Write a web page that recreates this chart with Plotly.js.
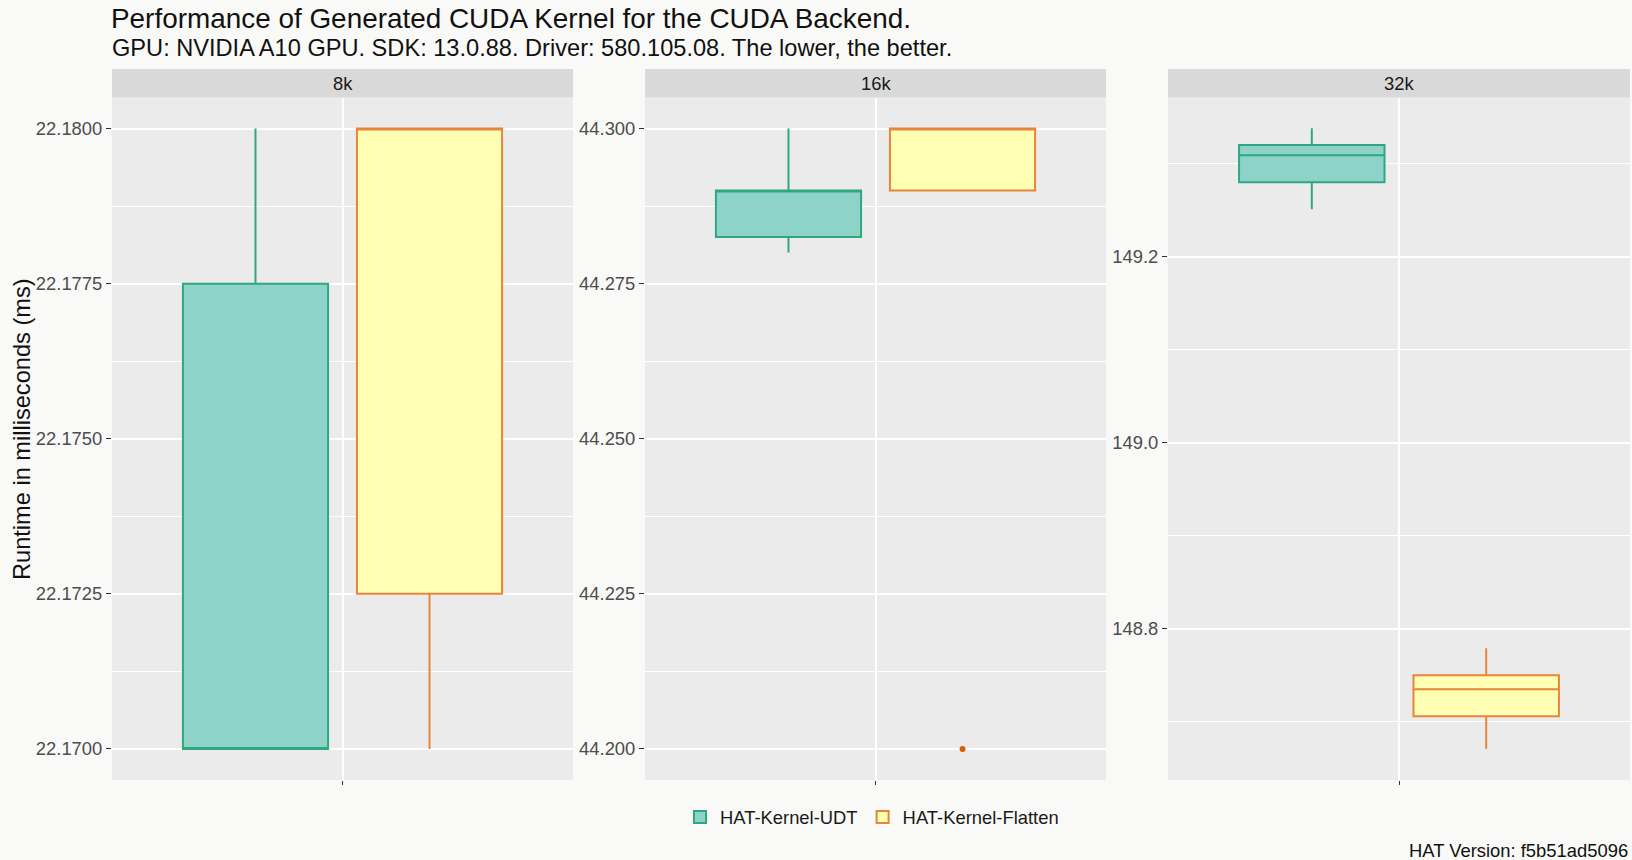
<!DOCTYPE html>
<html>
<head>
<meta charset="utf-8">
<script src="https://cdn.plot.ly/plotly-3.0.1.min.js"></script>
<style>
  html, body { margin: 0; padding: 0; background: #F9F9F7; }
  #chart { width: 1632px; height: 860px; }
</style>
</head>
<body>
<div id="chart"></div>
<script>
// Problem sizes (facets) and kernel variants
const sizes = ['8k', '16k', '32k'];
const series = ['HAT-Kernel-UDT', 'HAT-Kernel-Flatten'];

// Box statistics per size (runtime in ms)
const udtLower  = [22.1700, 44.2800, 149.251];
const udtQ1     = [22.1700, 44.2825, 149.280];
const udtMedian = [22.1700, 44.2900, 149.309];
const udtQ3     = [22.1775, 44.2900, 149.320];
const udtUpper  = [22.1800, 44.3000, 149.338];

const flatLower  = [22.1700, 44.2900, 148.671];
const flatQ1     = [22.1725, 44.2900, 148.706];
const flatMedian = [22.1800, 44.3000, 148.735];
const flatQ3     = [22.1800, 44.3000, 148.750];
const flatUpper  = [22.1800, 44.3000, 148.779];

// Points beyond the whiskers
const udtOutliers  = [[], [], []];
const flatOutliers = [[], [44.200], []];

// Y-axis tick labels per facet
const tickLabels = [
  ['22.1700', '22.1725', '22.1750', '22.1775', '22.1800'],
  ['44.200', '44.225', '44.250', '44.275', '44.300'],
  ['148.8', '149.0', '149.2']
];

const FONT = 'Liberation Sans, Arial, Helvetica, sans-serif';
const W = 1632, H = 860;
const px = v => v / W;
const py = v => 1 - v / H;

const styles = [
  { fill: '#8ED3C7', line: '#2FA882', point: '#1B9E77' },
  { fill: '#FFFFB3', line: '#E8853A', point: '#D95F02' }
];

const stats = [
  { lower: udtLower, q1: udtQ1, med: udtMedian, q3: udtQ3, upper: udtUpper, out: udtOutliers },
  { lower: flatLower, q1: flatQ1, med: flatMedian, q3: flatQ3, upper: flatUpper, out: flatOutliers }
];

const traces = [];
sizes.forEach((size, f) => {
  const sfx = f === 0 ? '' : String(f + 1);
  series.forEach((name, s) => {
    const st = stats[s];
    const tr = {
      type: 'box',
      orientation: 'v',
      name: name,
      legendgroup: name,
      showlegend: f === 0,
      offsetgroup: String(s),
      x: [size],
      lowerfence: [st.lower[f]],
      q1: [st.q1[f]],
      median: [st.med[f]],
      q3: [st.q3[f]],
      upperfence: [st.upper[f]],
      boxpoints: false,
      whiskerwidth: 0,
      fillcolor: styles[s].fill,
      line: { color: styles[s].line, width: 2 },
      marker: { color: styles[s].point, size: 6, line: { width: 0 } },
      xaxis: 'x' + sfx,
      yaxis: 'y' + sfx,
      hoverinfo: 'skip'
    };
    // raw outlier samples, only where there are any
    if (st.out[f].length) {
      tr.y = [st.out[f]];
      tr.boxpoints = 'outliers';
      tr.jitter = 0;
      tr.pointpos = 0;
    }
    traces.push(tr);
  });
});

// Panel placement (pixel edges)
const panelX = [[112, 573], [645, 1106], [1168, 1630]];
const panelTop = 97.5, panelBottom = 780, stripTop = 69;

const yRanges = [[22.1695, 22.1805], [44.195, 44.305], [148.6375, 149.371]];
const yTick0 = [22.17, 44.2, 148.8];
const yDtick = [0.0025, 0.025, 0.2];

const layout = {
  width: W, height: H,
  margin: { l: 0, r: 0, t: 0, b: 0 },
  paper_bgcolor: '#F9F9F7',
  plot_bgcolor: '#EBEBEB',
  boxmode: 'group',
  boxgap: 0.094,
  boxgroupgap: 0.166,
  font: { family: FONT, color: '#1A1A1A' },
  title: {
    text: 'Performance of Generated CUDA Kernel for the CUDA Backend.',
    font: { family: FONT, size: 27.9, color: '#111111' },
    xref: 'container', yref: 'container',
    x: px(111), xanchor: 'left',
    y: py(18), yanchor: 'middle'
  },
  showlegend: true,
  legend: {
    orientation: 'h',
    x: px(872), xanchor: 'center',
    y: py(817), yanchor: 'middle',
    font: { family: FONT, size: 18.4, color: '#1A1A1A' },
    bgcolor: 'rgba(0,0,0,0)',
    itemwidth: 30,
    traceorder: 'normal'
  },
  shapes: [],
  annotations: [
    {
      text: 'GPU: NVIDIA A10 GPU. SDK: 13.0.88. Driver: 580.105.08. The lower, the better.',
      xref: 'paper', yref: 'paper',
      x: px(110), xanchor: 'left',
      y: py(48), yanchor: 'middle',
      showarrow: false,
      font: { family: FONT, size: 23.6, color: '#111111' }
    },
    {
      text: 'Runtime in milliseconds (ms)',
      xref: 'paper', yref: 'paper',
      x: px(22), xanchor: 'center',
      y: py(429), yanchor: 'middle',
      textangle: -90,
      showarrow: false,
      font: { family: FONT, size: 23.6, color: '#111111' }
    },
    {
      text: 'HAT Version: f5b51ad5096',
      xref: 'paper', yref: 'paper',
      x: px(1630), xanchor: 'right',
      y: py(850), yanchor: 'middle',
      showarrow: false,
      font: { family: FONT, size: 18.4, color: '#111111' }
    }
  ]
};

sizes.forEach((size, f) => {
  const sfx = f === 0 ? '' : String(f + 1);
  layout['xaxis' + sfx] = {
    type: 'category',
    domain: [px(panelX[f][0]), px(panelX[f][1])],
    anchor: 'y' + sfx,
    range: [-0.6, 0.6],
    showticklabels: false,
    ticks: 'outside', ticklen: 4, tickwidth: 1, tickcolor: '#333333',
    showgrid: true, gridcolor: '#FFFFFF', gridwidth: 2,
    zeroline: false, showline: false, fixedrange: true
  };
  layout['yaxis' + sfx] = {
    domain: [py(panelBottom), py(panelTop)],
    anchor: 'x' + sfx,
    range: yRanges[f],
    tickmode: 'array',
    tickvals: tickLabels[f].map(Number),
    ticktext: tickLabels[f],
    ticks: 'outside', ticklen: 5, tickwidth: 1, tickcolor: '#333333',
    tickfont: { family: FONT, size: 18.4, color: '#4D4D4D' },
    ticklabelstandoff: 0,
    showgrid: true, gridcolor: '#FFFFFF', gridwidth: 2,
    minor: {
      tick0: yTick0[f], dtick: yDtick[f] / 2,
      showgrid: true, gridcolor: '#FFFFFF', gridwidth: 1, ticks: ''
    },
    zeroline: false, showline: false, fixedrange: true
  };
  // facet strip
  layout.shapes.push({
    type: 'rect', layer: 'below',
    xref: 'x' + sfx + ' domain', yref: 'paper',
    x0: 0, x1: 1, y0: py(panelTop), y1: py(stripTop),
    fillcolor: '#D9D9D9', line: { width: 0 }
  });
  layout.annotations.push({
    text: size,
    xref: 'x' + sfx + ' domain', yref: 'paper',
    x: 0.5, xanchor: 'center',
    y: py((panelTop + stripTop) / 2), yanchor: 'middle',
    showarrow: false,
    font: { family: FONT, size: 18.4, color: '#1A1A1A' }
  });
});

Plotly.newPlot('chart', traces, layout, { staticPlot: true, displayModeBar: false });
</script>
</body>
</html>
